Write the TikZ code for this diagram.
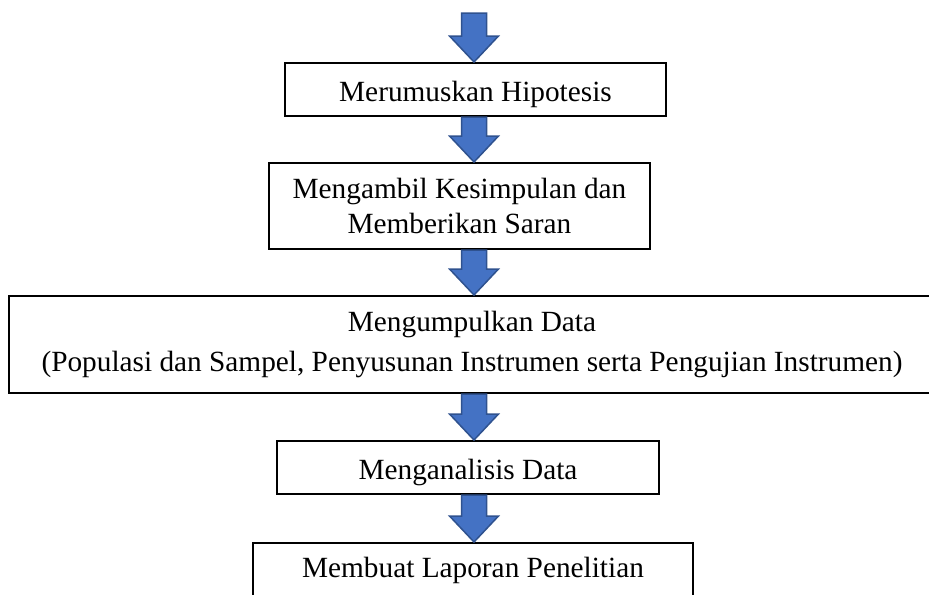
\documentclass[tikz,border=0pt]{standalone}
\usepackage{fontspec}
\setmainfont{Liberation Serif}
\usetikzlibrary{calc}
\definecolor{arrowblue}{RGB}{68,114,196}
\definecolor{arrowedge}{RGB}{47,82,143}
\tikzset{
  stepbox/.style={rectangle, draw=black, fill=white, line width=1pt,
    align=center, inner sep=0pt, font=\fontsize{14.65}{17.75}\selectfont},
  lowtext/.style={text height=12.5pt, text depth=1pt},
  blockarrow/.style={draw=arrowedge, fill=arrowblue, line width=0.75pt, line join=miter}
}
% block arrow pointing down: #1 = top of shaft, #2 = tip
\newcommand{\downblock}[2]{%
  \draw[blockarrow] ($(#1)+(-12.5,0)$) -- ($(#2)+(-12.5,-26)$) -- ($(#2)+(-24.5,-26)$)
    -- (#2) -- ($(#2)+(24.5,-26)$) -- ($(#2)+(12.5,-26)$) -- ($(#1)+(12.5,0)$) -- cycle;}

\begin{document}
\begin{tikzpicture}[x=0.5pt, y=-0.5pt]
  \useasboundingbox (0,0) rectangle (929,594);

  % Steps
  \node[stepbox, lowtext, minimum width=190.5pt, minimum height=26.5pt] (hipotesis) at (475.5,89.5) {Merumuskan Hipotesis};
  \node[stepbox, minimum width=190.5pt, minimum height=43pt] (kesimpulan) at (459.5,206) {Mengambil Kesimpulan dan\\Memberikan Saran};
  \node[stepbox, minimum width=463pt, minimum height=48.5pt] (data) at (472,344.5) {Mengumpulkan Data\\[2pt](Populasi dan Sampel, Penyusunan Instrumen serta Pengujian Instrumen)};
  \node[stepbox, lowtext, minimum width=191pt, minimum height=26.5pt] (analisis) at (468,467.5) {Menganalisis Data};
  \node[stepbox, minimum width=220pt, minimum height=27pt] (laporan) at (473,570) {Membuat Laporan Penelitian};

  % Arrows
  \coordinate (start) at (474,13);
  \downblock{start}{start |- hipotesis.north}
  \downblock{start |- hipotesis.south}{start |- kesimpulan.north}
  \downblock{start |- kesimpulan.south}{start |- data.north}
  \downblock{start |- data.south}{start |- analisis.north}
  \downblock{start |- analisis.south}{start |- laporan.north}
\end{tikzpicture}
\end{document}
